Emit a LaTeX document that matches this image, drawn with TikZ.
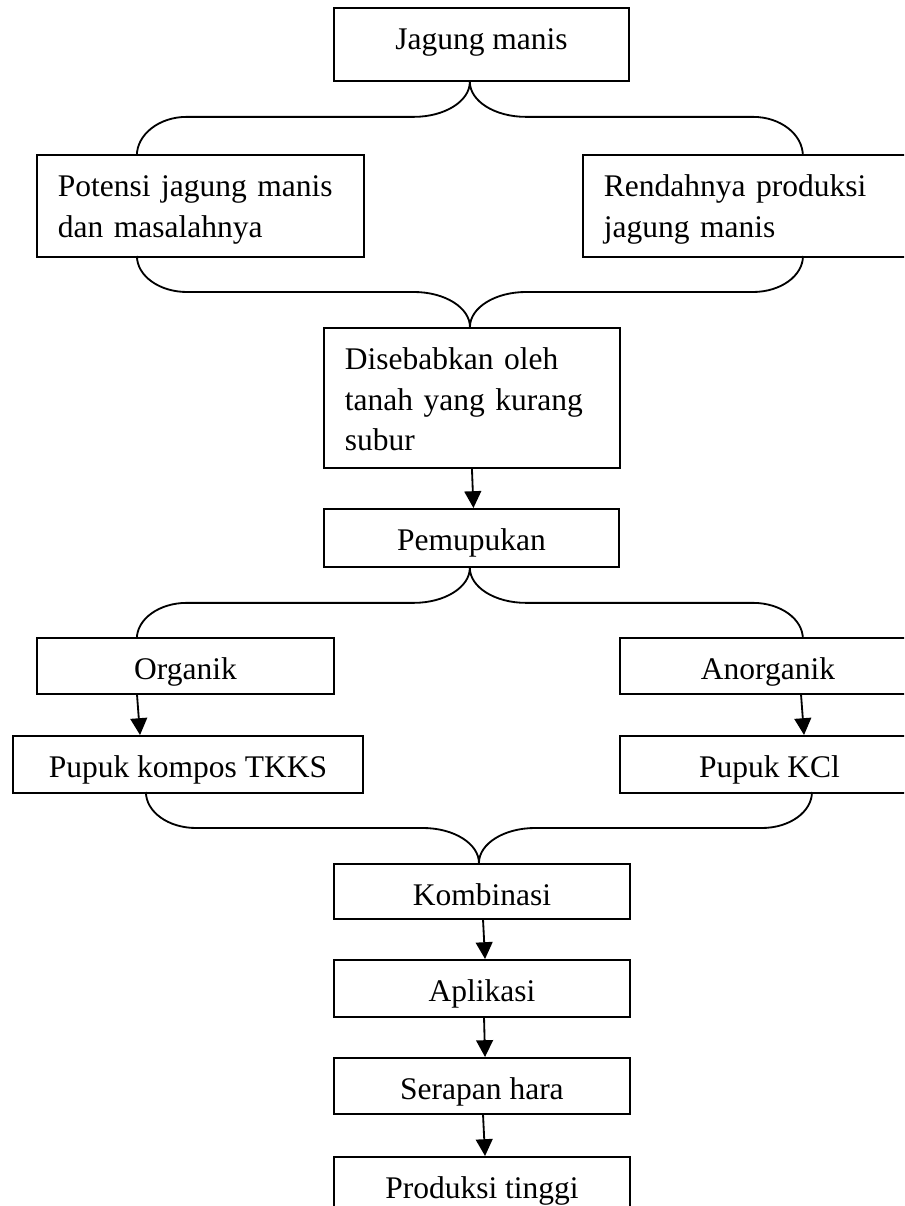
\documentclass[tikz,border=0pt]{standalone}
\usepackage{fontspec}
\setmainfont{Liberation Serif}
\usetikzlibrary{arrows.meta,positioning,calc}

% kurung kurawal: membuka ke bawah dari ujung #1
\newcommand{\kurungbawah}[2]{%
  \draw[garis] (#1) arc[start angle=0,end angle=-90,x radius=1.4cm,y radius=0.875cm]
    -- ++(-227,0) arc[start angle=90,end angle=180,x radius=1.25cm,y radius=#2];
  \draw[garis] (#1) arc[start angle=180,end angle=270,x radius=1.4cm,y radius=0.875cm]
    -- ++(227,0) arc[start angle=90,end angle=0,x radius=1.25cm,y radius=#2];}
% kurung kurawal: menyatu ke atas menuju ujung #1
\newcommand{\kurungatas}[1]{%
  \draw[garis] (#1) arc[start angle=0,end angle=90,x radius=1.4cm,y radius=0.875cm]
    -- ++(-227,0) arc[start angle=270,end angle=180,x radius=1.25cm,y radius=0.9cm];
  \draw[garis] (#1) arc[start angle=180,end angle=90,x radius=1.4cm,y radius=0.875cm]
    -- ++(227,0) arc[start angle=270,end angle=360,x radius=1.25cm,y radius=0.9cm];}

\begin{document}
\begin{tikzpicture}[
    x=0.025cm, y=0.025cm,
    font=\fontsize{22.4}{28.5}\selectfont,
    kotak/.style={draw, line width=1.3pt, anchor=north west, inner xsep=0.525cm, inner ysep=0pt, text height=1.05cm},
    tengah/.style={kotak, align=center},
    kiri/.style={kotak, align=left},
    garis/.style={line width=1.3pt},
    panah/.style={line width=1.3pt, -{Triangle[length=0.42cm, width=0.42cm]}},
]
\useasboundingbox (0,0) rectangle (904,-1206);
\clip (0,0) rectangle (904,-1206);

% Latar belakang
\node[tengah, minimum width=7.375cm, text depth=0.775cm] (jagung) at (333,-7) {Jagung manis};
\node[kiri, text width=7.125cm, text depth=1.5cm] (potensi) at (36,-154) {Potensi jagung manis\\dan masalahnya};
\node[kiri, text width=7.15cm, text depth=1.5cm] (rendah) at (582,-154) {Rendahnya produksi\\jagung manis};
\node[kiri, text width=6.35cm, text depth=2.45cm] (sebab) at (323,-327) {Disebabkan oleh\\tanah yang kurang\\subur};
\node[tengah, minimum width=7.375cm, text depth=0.4cm] (pupuk) at (323,-508) {Pemupukan};

% Jenis pupuk
\node[tengah, minimum width=7.425cm, text depth=0.35cm] (organik) at (36,-637) {Organik};
\node[tengah, minimum width=7.4cm, text depth=0.35cm] (anorganik) at (619,-637) {Anorganik};
\node[tengah, minimum width=8.75cm, text depth=0.375cm] (kompos) at (12,-735) {Pupuk kompos TKKS};
\node[tengah, minimum width=7.475cm, text depth=0.375cm] (kcl) at (619,-735) {Pupuk KCl};

% Hasil
\node[tengah, minimum width=7.4cm, text depth=0.325cm] (kombinasi) at (333,-863) {Kombinasi};
\node[tengah, minimum width=7.4cm, text depth=0.375cm] (aplikasi) at (333,-959) {Aplikasi};
\node[tengah, minimum width=7.4cm, text depth=0.35cm] (serapan) at (333,-1057) {Serapan hara};
\node[tengah, minimum width=7.4cm, text depth=0.4cm] (tinggi) at (333,-1156) {Produksi tinggi};

% Kurung
\kurungbawah{[xshift=-0.29cm]jagung.south}{0.975cm}
\kurungatas{[xshift=-0.05cm]sebab.north}
\kurungbawah{[xshift=-0.04cm]pupuk.south}{0.9cm}
\kurungatas{[xshift=-0.075cm]kombinasi.north}

% Panah
\draw[panah] (sebab.south) -- ([xshift=0.05cm]pupuk.north);
\draw[panah] ([xshift=2.525cm]organik.south west) -- ([xshift=3.2cm]kompos.north west);
\draw[panah] ([xshift=4.55cm]anorganik.south west) -- ([xshift=4.625cm]kcl.north west);
\draw[panah] ([xshift=3.75cm]kombinasi.south west) -- ([xshift=3.8cm]aplikasi.north west);
\draw[panah] ([xshift=3.775cm]aplikasi.south west) -- ([xshift=3.8cm]serapan.north west);
\draw[panah] ([xshift=3.75cm]serapan.south west) -- ([xshift=3.8cm]tinggi.north west);
\end{tikzpicture}
\end{document}
